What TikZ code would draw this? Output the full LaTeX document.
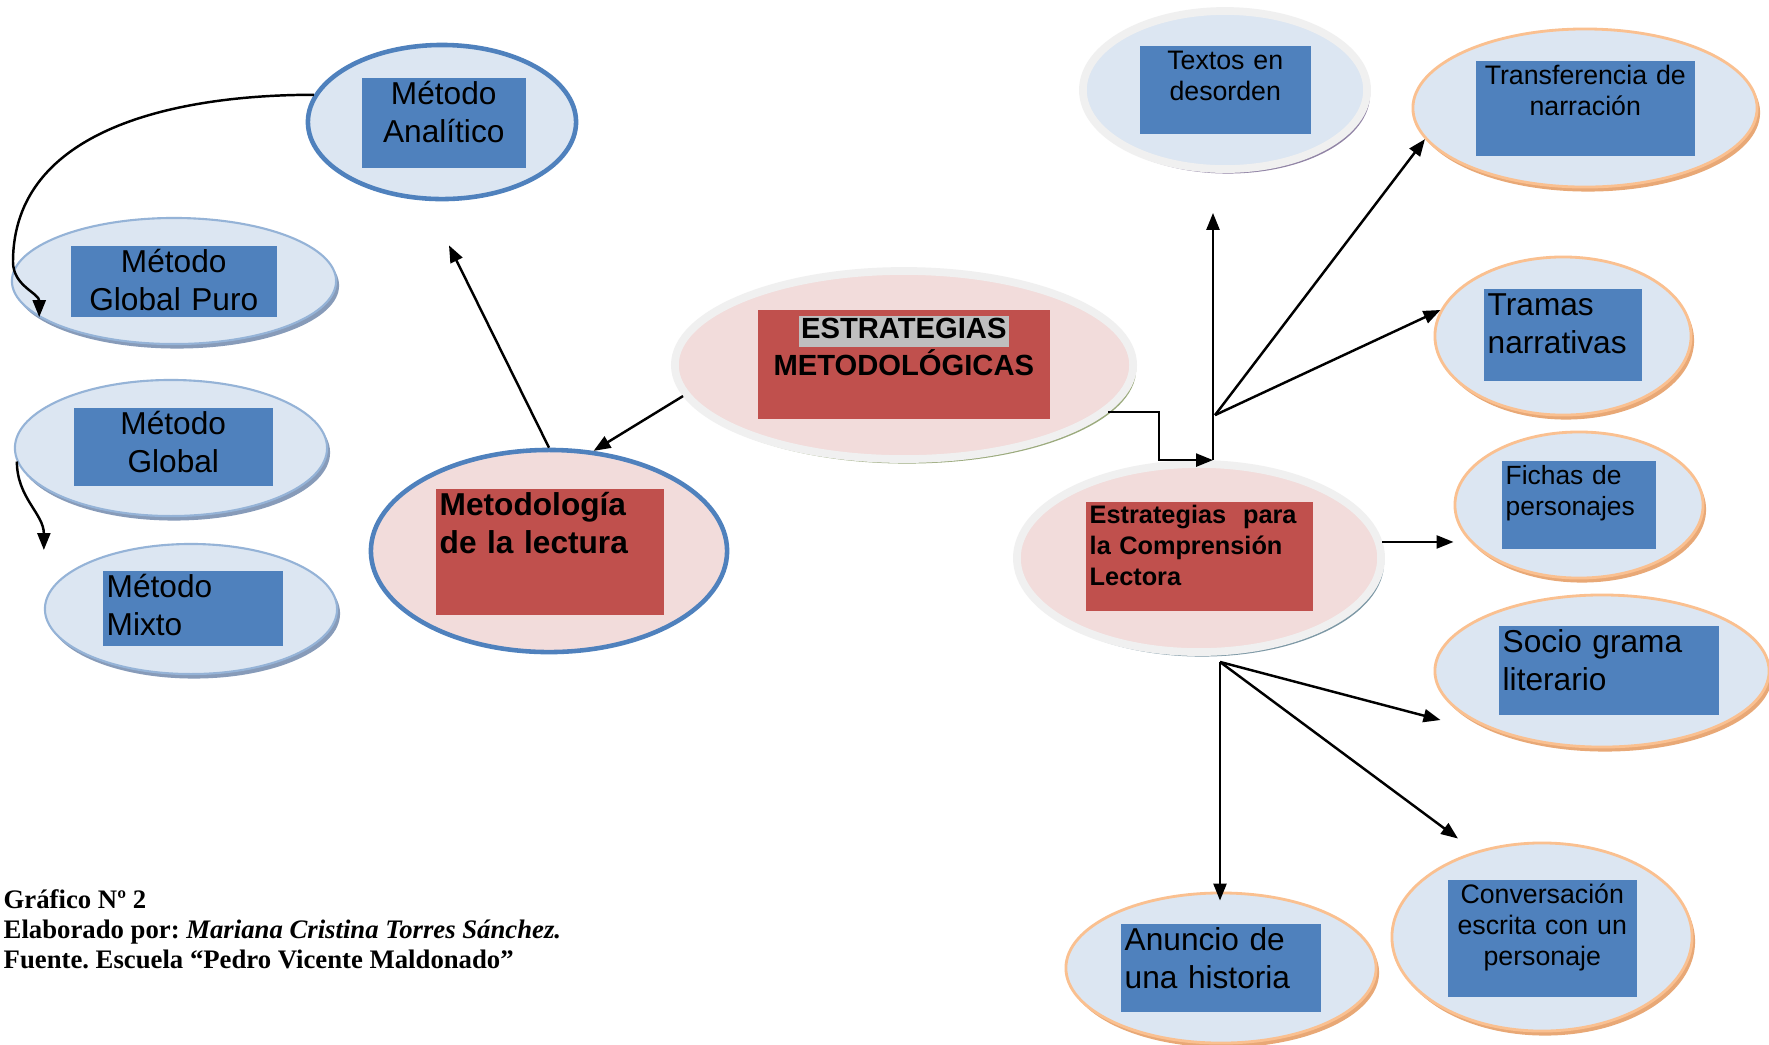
\documentclass[tikz,border=0pt]{standalone}
\usepackage{fontspec}
\setmainfont{Liberation Sans}
\newfontfamily\capserif{Liberation Serif}
\usetikzlibrary{arrows.meta,positioning,calc,shapes.geometric,shadows}

\definecolor{paleblue}{RGB}{220,230,242}
\definecolor{boxblue}{RGB}{79,129,189}
\definecolor{rimblue}{RGB}{149,179,215}
\definecolor{palerose}{RGB}{242,220,219}
\definecolor{boxred}{RGB}{192,80,77}
\definecolor{rimgray}{RGB}{240,240,240}
\definecolor{rimpeach}{RGB}{250,192,144}
\definecolor{markgray}{RGB}{191,191,191}
\definecolor{castblue}{RGB}{135,155,185}
\definecolor{castgreen}{RGB}{155,170,125}
\definecolor{castviolet}{RGB}{145,132,165}
\definecolor{castteal}{RGB}{125,152,165}
\definecolor{castpeach}{RGB}{232,168,118}

\begin{document}
\begin{tikzpicture}[x=0.01cm,y=-0.01cm,
    bubble/.style={ellipse,inner sep=0pt,fill=paleblue},
    dims/.style 2 args={minimum width=#1,minimum height=#2},
    cast/.style={drop shadow={shadow xshift=0.03cm,shadow yshift=-0.045cm,fill=#1,opacity=1}},
    bluerim/.style={draw=boxblue,line width=1.3pt},
    thinrim/.style={draw=rimblue,line width=0.6pt,cast=castblue},
    grayrim/.style={draw=rimgray,line width=2.2pt},
    peachrim/.style={draw=rimpeach,line width=0.8pt,cast=castpeach},
    tbox/.style={rectangle,anchor=north west,inner xsep=0.04cm,inner ysep=0.03cm,text height=0.24cm},
    bluebox/.style={tbox,fill=boxblue,font=\fontsize{9}{10.8}\selectfont},
    smallbox/.style={tbox,fill=boxblue,text height=0.21cm,font=\fontsize{7.6}{8.8}\selectfont},
    redbox/.style={tbox,fill=boxred,font=\bfseries\fontsize{9}{10.8}\selectfont},
    link/.style={line width=0.7pt,-{Triangle[length=0.17cm,width=0.13cm]}}]

    \path[use as bounding box,fill=white] (0,0) rectangle (1769,1044);

    % metodos de lectura
    \node[bubble,bluerim,dims={2.68cm}{1.54cm}] (analitico) at (442,122) {};
    \node[bluebox,text width=1.56cm,text depth=0.60cm,align=center] (analiticoT) at (361,77) {Método\\Analítico};
    \node[bubble,thinrim,dims={3.24cm}{1.26cm}] (globalpuro) at (174,281) {};
    \node[bluebox,text width=1.98cm,text depth=0.41cm,align=center] (globalpuroT) at (70,245) {Método\\Global Puro};
    \node[bubble,thinrim,dims={3.12cm}{1.36cm}] (global) at (171,448) {};
    \node[bluebox,text width=1.91cm,text depth=0.48cm,align=center] (globalT) at (73,407) {Método\\Global};
    \node[bubble,thinrim,dims={2.92cm}{1.30cm}] (mixto) at (191,609) {};
    \node[bluebox,text width=1.72cm,text depth=0.45cm,align=left] (mixtoT) at (102,570) {Método\\Mixto};
    \node[bubble,bluerim,fill=palerose,dims={3.56cm}{2.02cm}] (lectura) at (549,551) {};
    \node[redbox,text width=2.20cm,text depth=0.96cm,align=left] (lecturaT) at (435,488) {Metodología\\de la lectura};

    % centro
    \node[bubble,grayrim,cast=castgreen,fill=palerose,dims={4.58cm}{1.88cm}] (estrategias) at (904,365) {};
    \node[tbox,fill=boxred,inner ysep=0pt,font=\bfseries\fontsize{8.3}{10.5}\selectfont,text height=0.29cm,text width=2.84cm,text depth=0.80cm,align=center] (estrategiasT) at (757,309) {{\fboxsep=0.6pt\colorbox{markgray}{\rule[-0.065cm]{0pt}{0.27cm}ESTRATEGIAS}}\\METODOLÓGICAS};
    \node[bubble,grayrim,cast=castteal,fill=palerose,dims={3.64cm}{1.88cm}] (comprension) at (1199,558) {};
    \node[tbox,fill=boxred,font=\bfseries\fontsize{7.2}{8.8}\selectfont,text height=0.19cm,text width=2.19cm,text depth=0.84cm,align=left] (comprensionT) at (1085,501) {Estrategias\ \ para\\la Comprensión\\Lectora};

    % estrategias de comprension
    \node[bubble,grayrim,cast=castviolet,dims={2.84cm}{1.58cm}] (textos) at (1225,90) {};
    \node[smallbox,text width=1.63cm,text depth=0.61cm,align=center] (textosT) at (1139,45) {Textos en\\desorden};
    \node[bubble,peachrim,dims={3.44cm}{1.58cm}] (transferencia) at (1585,108) {};
    \node[smallbox,text width=2.11cm,text depth=0.68cm,align=center] (transferenciaT) at (1475,60) {Transferencia de\\narración};
    \node[bubble,peachrim,dims={2.56cm}{1.58cm}] (tramas) at (1563,336) {};
    \node[bluebox,text width=1.50cm,text depth=0.62cm,align=left] (tramasT) at (1483,288) {Tramas\\narrativas};
    \node[bubble,peachrim,dims={2.48cm}{1.46cm}] (fichas) at (1579,505) {};
    \node[smallbox,font=\fontsize{7.5}{8.7}\selectfont,text width=1.46cm,text depth=0.61cm,align=left] (fichasT) at (1501,460) {Fichas de\\personajes};
    \node[bubble,peachrim,dims={3.34cm}{1.52cm}] (socio) at (1602,671) {};
    \node[bluebox,text width=2.12cm,text depth=0.59cm,align=left] (socioT) at (1498,625) {Socio grama\\literario};
    \node[bubble,peachrim,dims={3.00cm}{1.88cm}] (conversacion) at (1542,937) {};
    \node[smallbox,text width=1.81cm,text depth=0.90cm,align=center] (conversacionT) at (1447,879) {Conversación\\escrita con un\\personaje};
    \node[bubble,peachrim,dims={3.10cm}{1.50cm}] (anuncio) at (1221,968) {};
    \node[bluebox,text width=1.92cm,text depth=0.58cm,align=left] (anuncioT) at (1120,923) {Anuncio de\\una historia};

    \coordinate (bendA) at (13,262);
    \coordinate (tipA) at ($(analitico.south)+(7,44)$);
    \coordinate (mixtoIn) at ($(mixto.west)+(0,-59)$);
    \coordinate (hub) at ($(comprension.north)+(14,0)$);
    \coordinate (fork) at ($(hub)+(2,-45)$);
    \coordinate (upT) at ($(textos.south)+(-12,40)$);
    \coordinate (base) at ($(comprension.south)+(21,6)$);
    \coordinate (socioIn) at ($(socio.west)+(7,49)$);
    \coordinate (convIn) at ($(conversacion.north)+(-84,-3)$);
    \coordinate (anuncioIn) at ($(anuncio.north)+(0,9)$);

    \begin{scope}[link]
    \draw (analitico.168) to[out=180,in=90] (bendA) to[out=-90,in=90] (globalpuro.195);
    \draw (global.185) to[out=-90,in=90] (mixtoIn);
    \draw (lectura.north) -- (tipA);
    \draw (estrategias.188) -- (lectura.66);
    \draw (estrategias.-13) -- ++(51,0) |- (hub);
    \draw (hub) -- (hub |- upT);
    \draw (fork) -- (transferencia.191);
    \draw (fork) -- (tramas.168);
    \draw (comprension.5) -- (comprension.5 -| fichas.west);
    \draw (base) -- (socioIn);
    \draw (base) -- (convIn);
    \draw (base) -- (base |- anuncioIn);
    \end{scope}

    \begin{scope}[every node/.style={anchor=base west,inner sep=0pt,font=\capserif\bfseries\frenchspacing\fontsize{7.6}{8.5}\selectfont}]
    \node (grafico) at (3,908) {Gráfico Nº 2};
    \node (autor) at (3,938) {Elaborado por: \textit{Mariana Cristina Torres Sánchez.}};
    \node (fuente) at (3,968) {Fuente. Escuela “Pedro Vicente Maldonado”};
    \end{scope}
\end{tikzpicture}
\end{document}
